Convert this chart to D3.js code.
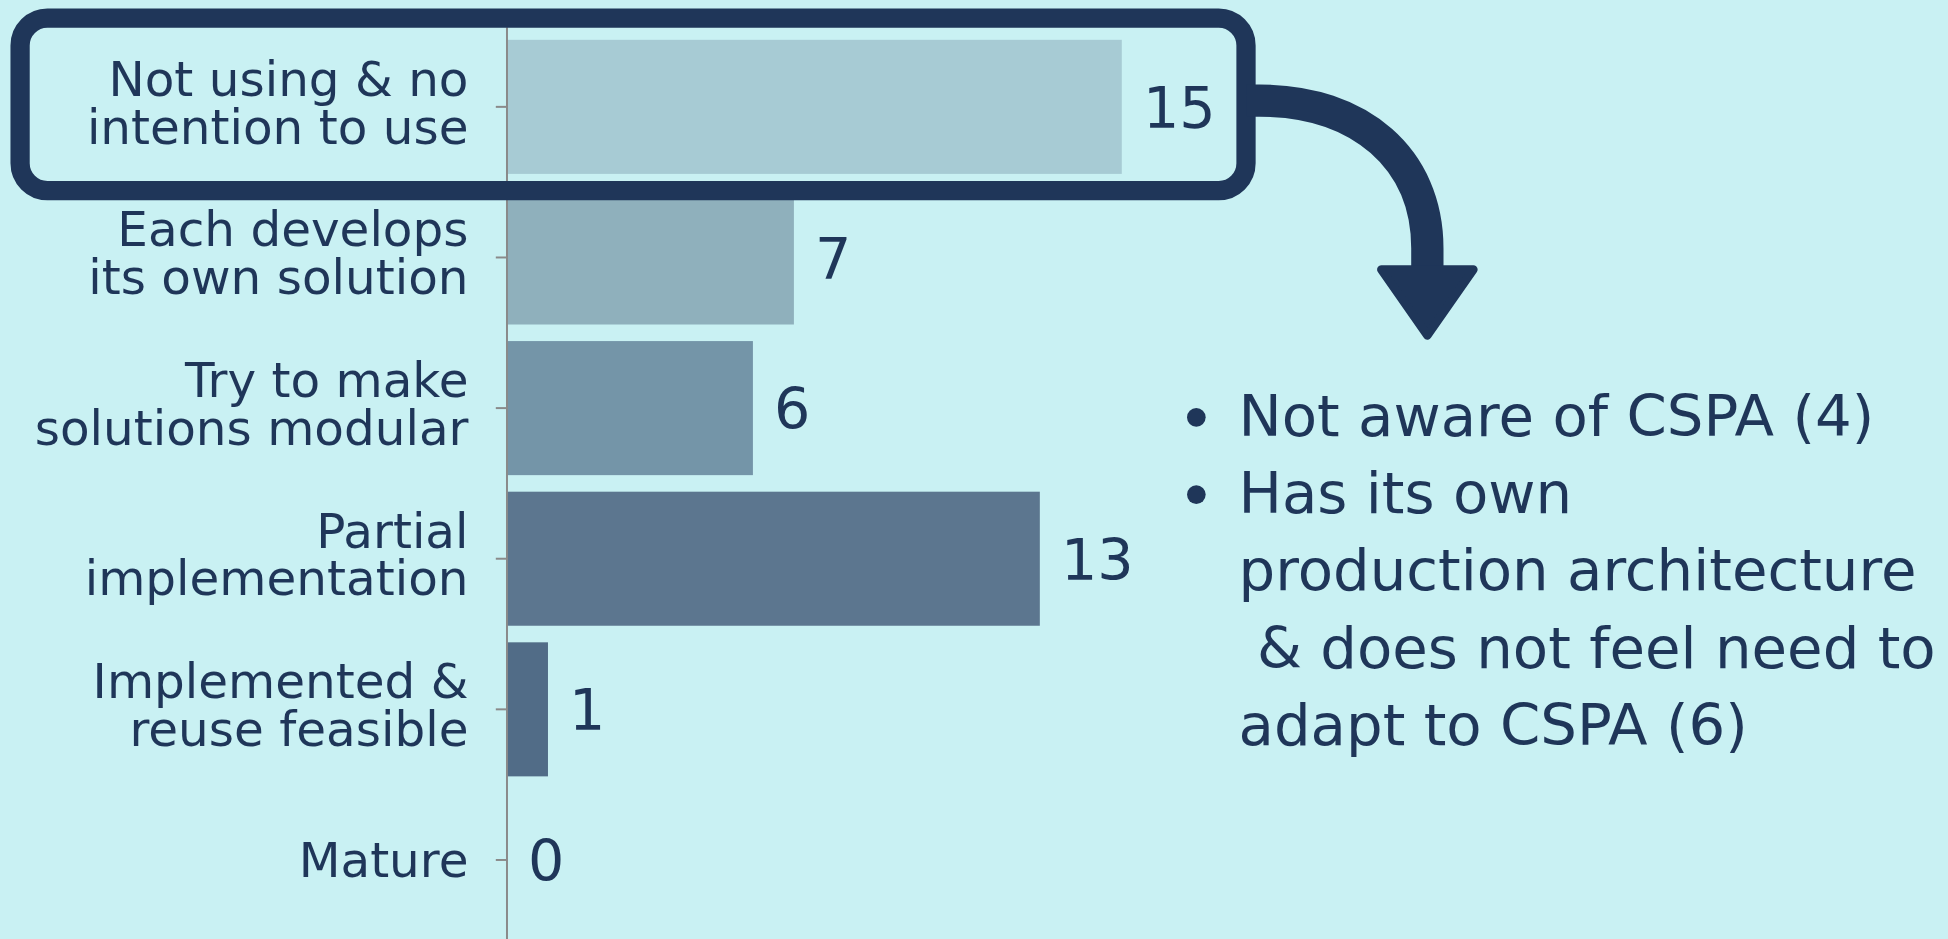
<!DOCTYPE html>
<html>
<head>
<meta charset="utf-8">
<script src="https://cdn.jsdelivr.net/npm/d3@7"></script>
<style>
  html, body { margin: 0; padding: 0; background: #c9f1f3; overflow: hidden; }
  svg { display: block; }
</style>
</head>
<body>
<svg id="container"></svg>
<script>
const categories = [
  "Not using & no intention to use",
  "Each develops its own solution",
  "Try to make solutions modular",
  "Partial implementation",
  "Implemented & reuse feasible",
  "Mature",
];
const labelLines = [
  ["Not using & no", "intention to use"],
  ["Each develops", "its own solution"],
  ["Try to make", "solutions modular"],
  ["Partial", "implementation"],
  ["Implemented &", "reuse feasible"],
  ["Mature"],
];
const counts = [15, 7, 6, 13, 1, 0];
const barColors = ["#a7cbd4", "#8fb0bc", "#7495a8", "#5c768f", "#516c87", "#516c87"];
const noteLines = [
  ["Not aware of CSPA (4)"],
  ["Has its own", "production architecture", " & does not feel need to", "adapt to CSPA (6)"],
];

// drawn in the reference's own units, then scaled up to the window
let viewWidth = 1568;
let viewHeight = 756;
let containerWidth = 1948;
let containerHeight = 939;
let axisX = 408;
let navy = "#1f3659";
let fontFamily = "'DejaVu Sans', sans-serif";

const container = d3
  .select("#container")
  .attr("width", containerWidth)
  .attr("height", containerHeight)
  .attr("viewBox", `0 0 ${viewWidth} ${viewHeight}`);

container
  .append("rect")
  .attr("width", viewWidth)
  .attr("height", viewHeight)
  .attr("fill", "#c9f1f3");

const xScale = d3.scaleLinear().domain([0, 15]).range([axisX, 903]);

const yScale = d3
  .scaleBand()
  .domain(categories)
  .range([25.4, 753])
  .paddingInner(0.11)
  .paddingOuter(0.055);

// bars
container
  .selectAll(".bar")
  .data(categories)
  .join("rect")
  .attr("class", "bar")
  .attr("x", xScale(0))
  .attr("y", (d) => yScale(d))
  .attr("width", (d, i) => xScale(counts[i]) - xScale(0))
  .attr("height", yScale.bandwidth())
  .attr("fill", (d, i) => barColors[i]);

// y axis
const yAxis = d3.axisLeft(yScale).tickSize(9).tickSizeOuter(0).tickPadding(22);
const axisG = container
  .append("g")
  .attr("class", "y-axis")
  .attr("transform", `translate(${axisX}, 0)`)
  .call(yAxis);

axisG.select(".domain").attr("stroke", "#8a8a8a").attr("stroke-width", 1.6)
  .attr("d", `M0,22V${viewHeight}`);
axisG.selectAll(".tick line").attr("stroke", "#8a8a8a").attr("stroke-width", 1.6);

axisG
  .selectAll(".tick text")
  .attr("fill", navy)
  .attr("font-family", fontFamily)
  .attr("font-size", 39)
  .attr("dy", null)
  .attr("y", null)
  .text(null)
  .each(function (d) {
    const lines = labelLines[categories.indexOf(d)];
    const first = lines.length === 1 ? 14 : -9;
    d3.select(this)
      .selectAll("tspan")
      .data(lines)
      .join("tspan")
      .attr("x", -31)
      .attr("y", (l, j) => first + j * 38.5)
      .text((l) => l);
  });

// value labels
container
  .selectAll(".value")
  .data(categories)
  .join("text")
  .attr("class", "value")
  .attr("x", (d, i) => xScale(counts[i]) + 17)
  .attr("y", (d) => yScale(d) + yScale.bandwidth() / 2 + 17)
  .attr("fill", navy)
  .attr("font-family", fontFamily)
  .attr("font-size", 46)
  .text((d, i) => counts[i]);

// highlight box round the first bar
const b0 = yScale(categories[0]);
container
  .append("rect")
  .attr("x", 16)
  .attr("y", b0 - 17.5)
  .attr("width", 987)
  .attr("height", yScale.bandwidth() + 31)
  .attr("rx", 22)
  .attr("fill", "none")
  .attr("stroke", navy)
  .attr("stroke-width", 15.5);

// curved arrow
container
  .append("path")
  .attr("d", "M1003,81 L1014,81 C1095,81 1149,128 1149,200 L1149,218")
  .attr("fill", "none")
  .attr("stroke", navy)
  .attr("stroke-width", 26);

container
  .append("path")
  .attr("d", "M1112,217 L1186,217 L1149,270 Z")
  .attr("fill", navy)
  .attr("stroke", navy)
  .attr("stroke-width", 7)
  .attr("stroke-linejoin", "round");

// notes
let noteX = 997;
let noteLine = 62.2;
let row = 0;
const notesG = container.append("g").attr("class", "notes");
noteLines.forEach((lines) => {
  const top = 351 + row * noteLine;
  notesG
    .append("circle")
    .attr("cx", 963)
    .attr("cy", top - 15)
    .attr("r", 7.5)
    .attr("fill", navy);
  lines.forEach((l, j) => {
    notesG
      .append("text")
      .attr("x", noteX)
      .attr("y", top + j * noteLine)
      .attr("fill", navy)
      .attr("font-family", fontFamily)
      .attr("font-size", 46.5)
      .attr("xml:space", "preserve")
      .style("white-space", "pre")
      .text(l);
  });
  row += lines.length;
});
</script>
</body>
</html>
